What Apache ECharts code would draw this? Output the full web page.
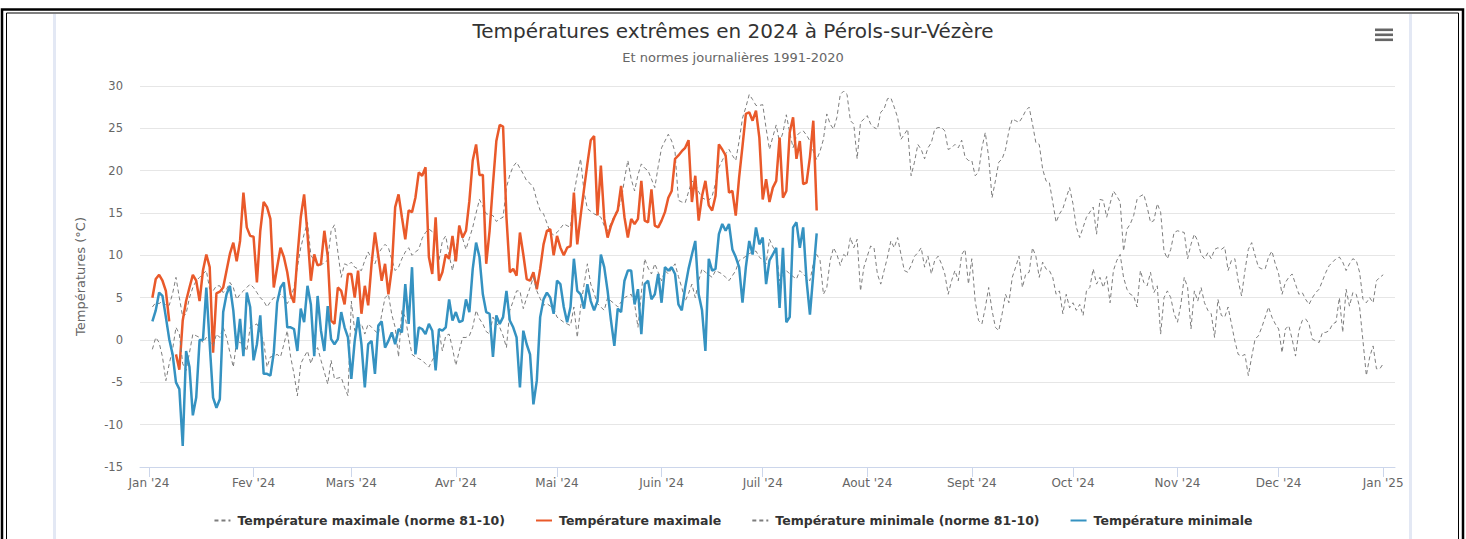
<!DOCTYPE html>
<html>
<head>
<meta charset="utf-8">
<script src="https://cdn.jsdelivr.net/npm/echarts@6/dist/echarts.min.js"></script>
<style>
html,body{margin:0;padding:0;background:#fff;}
#c{width:1466px;height:539px;}
</style>
</head>
<body>
<div id="c"></div>
<script>
// ---- axis definitions (day index counted from 1 Jan 2024) ----
const monthStarts = [0,31,60,91,121,152,182,213,244,274,305,335,366];
const monthLabels = ["Jan '24","Fev '24","Mars '24","Avr '24","Mai '24","Juin '24","Juil '24","Aout '24","Sept '24","Oct '24","Nov '24","Dec '24","Jan '25"];
const yTickMin = -15, yTickMax = 30, yTickStep = 5;

const seriesNames = [
  "Température maximale (norme 81-10)",
  "Température maximale",
  "Température minimale (norme 81-10)",
  "Température minimale"
];

// ---- observed daily maximum (from day 1) ----
const tmax = [
5.0,7.2,7.7,7.0,5.8,2.2,null,-1.7,-3.5,2.3,
4.6,6.2,7.7,7.0,4.6,8.2,10.1,8.6,-1.5,5.5,
5.7,6.2,8.2,10.2,11.5,9.3,11.7,17.4,13.3,12.3,
12.2,6.8,12.9,16.3,15.7,14.3,6.2,8.6,10.9,9.8,
8.0,5.4,4.4,9.8,14.5,17.2,12.5,7.0,10.1,8.8,
9.0,12.9,9.9,2.3,1.9,6.2,5.8,4.2,7.8,7.8,
5.0,8.2,3.1,6.4,4.1,9.0,12.7,9.9,7.0,9.0,
5.4,8.4,15.7,17.2,14.5,11.9,15.3,15.1,16.8,19.8,
19.4,20.4,9.8,7.8,14.5,7.0,8.0,10.1,9.6,12.3,
9.3,13.5,12.1,12.9,16.4,21.2,23.1,19.5,19.5,9.0,
12.9,18.4,23.5,25.4,25.2,14.5,8.0,8.4,7.6,12.7,
10.1,7.2,7.0,8.0,6.0,8.4,11.3,12.9,13.1,10.0,
12.3,10.9,10.0,10.9,11.1,17.4,11.3,14.7,17.8,20.8,
23.6,24.1,14.7,20.6,14.3,12.1,13.5,14.5,15.3,18.2,
14.5,12.1,14.3,13.7,14.3,18.8,14.1,13.9,17.8,13.5,
13.3,14.1,15.1,16.8,17.6,21.4,21.8,22.3,22.7,23.6,
16.3,19.4,14.1,17.0,18.8,15.9,15.3,17.0,23.1,22.5,
21.8,17.4,17.6,14.7,19.2,22.9,26.7,26.9,25.9,27.1,
23.9,16.6,19.0,16.3,18.0,18.8,23.9,16.8,17.6,24.5,
26.3,21.4,23.5,18.4,18.6,21.6,25.9,15.3
];

// ---- observed daily minimum ----
const tmin = [
2.2,3.5,5.6,5.2,2.7,0.1,-1.7,-5.0,-5.8,-12.5,
-1.3,-3.2,-8.9,-6.8,0.0,0.0,6.2,-0.5,-6.8,-8.0,
-7.0,3.3,5.4,6.4,3.5,-1.1,2.5,-1.9,5.6,3.9,
-2.4,-0.5,2.9,-4.0,-4.0,-4.2,-1.5,4.4,6.2,6.8,
1.5,1.5,1.3,-1.3,3.7,2.1,6.4,4.2,-1.9,5.2,
1.1,-1.3,4.0,0.1,-0.5,0.1,3.3,1.5,0.3,-4.6,
-0.1,2.7,-0.5,-5.6,-0.5,-0.1,-4.0,1.7,2.2,-0.9,
-0.1,0.9,-0.5,1.3,0.9,6.6,1.9,8.6,-1.7,1.5,
1.3,0.7,1.9,1.1,-3.6,1.3,1.1,1.5,4.8,2.3,
3.3,2.1,2.3,4.8,3.3,8.4,11.5,9.8,5.4,3.3,
3.1,-2.0,2.9,1.9,2.7,5.8,2.3,1.5,0.3,-5.6,
1.1,-0.5,-1.7,-7.6,-4.8,2.7,4.8,5.6,5.0,3.1,
7.0,6.6,3.9,2.1,3.9,9.6,5.8,5.4,3.7,6.6,
4.6,3.5,4.6,10.1,8.6,5.8,2.3,-0.7,3.7,3.3,
7.0,8.2,8.2,4.2,6.0,0.7,6.6,7.0,4.8,5.4,
7.8,4.4,8.6,8.2,8.6,7.8,4.2,3.5,6.2,8.4,
10.1,11.7,5.4,3.5,-1.3,9.6,8.2,8.4,12.5,13.7,
12.9,13.7,10.7,9.8,8.6,4.4,8.6,11.7,10.1,13.3,
11.3,12.1,6.6,9.4,10.1,10.9,3.8,10.9,2.1,2.7,
13.3,13.9,10.9,13.3,7.0,3.0,7.8,12.6
];

// ---- daily normal of maximum ----
const txNorm = [
3.9,4.4,4.3,4.6,4.1,4.1,5.5,7.4,5.0,2.7,
3.1,5.0,6.2,7.0,7.4,7.8,8.2,6.0,5.8,6.4,
6.4,5.6,6.0,6.8,6.2,4.8,5.4,5.8,6.2,6.6,
6.2,5.6,5.0,4.6,3.9,4.5,5.0,5.0,5.4,5.0,
4.3,5.0,6.2,8.6,10.9,12.5,13.9,10.0,9.4,9.0,
8.8,9.2,9.4,12.9,13.6,10.4,7.4,9.0,8.8,9.2,
8.6,8.4,8.2,9.4,10.4,9.6,9.0,10.2,10.8,11.3,
10.9,9.5,8.2,8.6,9.6,10.4,10.9,10.0,10.4,10.7,
12.0,12.7,13.1,12.8,12.5,9.4,11.7,12.3,10.0,8.2,
10.5,13.5,12.0,10.7,12.0,13.3,15.0,16.6,15.8,14.9,
14.8,14.7,14.0,14.3,14.5,18.0,19.5,20.5,21.0,20.3,
19.6,18.8,18.5,18.0,16.5,15.3,14.9,13.8,12.7,12.4,
12.7,13.2,13.7,13.5,13.3,17.2,19.5,21.4,17.5,15.5,
15.2,14.9,14.7,14.5,13.5,12.9,13.8,14.7,15.5,16.3,
19.0,21.2,19.0,17.6,19.5,20.8,20.3,20.0,19.0,18.0,
20.5,22.7,23.5,24.3,23.5,22.2,16.5,16.3,16.2,17.5,
18.8,18.4,17.5,16.8,16.6,16.5,17.0,18.5,20.4,21.2,
22.0,22.5,21.8,21.2,23.5,26.2,27.5,29.0,28.4,27.7,
27.7,27.8,25.0,22.5,24.0,25.4,23.3,24.5,26.6,24.5,
22.7,24.1,24.5,24.7,24.2,23.5,22.3,21.3,22.3,23.7,
26.7,25.5,24.9,26.3,29.0,29.4,29.0,25.9,25.5,21.4,
25.7,26.1,26.5,25.5,25.1,24.9,26.9,27.3,28.5,28.6,
27.5,26.3,23.7,24.3,24.9,19.4,21.0,23.1,22.5,21.4,
22.7,23.3,24.9,25.1,25.1,24.7,22.5,22.7,23.1,22.7,
23.6,21.6,21.2,21.2,19.4,19.8,22.7,24.5,21.6,16.8,
18.8,21.0,21.4,22.5,24.7,26.1,25.9,25.7,26.3,27.1,
27.5,25.5,23.3,23.1,20.2,18.8,18.6,16.3,13.9,14.9,
15.5,16.8,18.0,16.1,13.3,12.1,13.3,14.5,15.1,15.7,
12.5,16.6,16.5,14.5,16.1,17.6,17.0,16.3,10.5,13.1,
13.7,14.7,16.6,17.0,17.2,15.7,13.9,14.1,16.1,15.1,
10.5,9.6,10.7,12.7,12.9,12.8,12.7,9.6,11.3,12.5,
11.7,10.1,9.6,10.3,9.6,10.7,10.9,10.7,11.0,8.2,
9.4,9.6,7.0,5.2,8.2,10.7,11.5,10.0,8.6,8.4,
8.4,9.8,10.5,9.0,7.8,5.4,6.8,7.4,7.8,6.6,
5.4,5.6,4.8,4.2,5.0,5.6,6.0,7.0,8.0,8.8,
9.2,9.6,9.8,9.2,8.2,9.0,9.6,9.4,8.0,4.8,
4.4,5.0,4.4,7.0,7.4,7.7
];

// ---- daily normal of minimum ----
const tnNorm = [
-1.1,0.3,-0.3,-2.0,-4.8,-2.8,-1.1,1.5,0.7,-2.8,
-3.6,-1.5,0.7,0.5,0.3,-0.3,0.3,-0.2,-0.7,0.7,
0.3,1.5,0.3,-1.5,-3.2,-0.1,-0.3,-0.5,-1.3,1.5,
1.7,1.9,0.8,-0.1,-3.2,-2.0,-1.9,-1.7,-2.0,-0.5,
1.1,-2.0,-4.0,-6.6,-2.8,-2.0,-1.3,-2.8,-1.5,-0.9,
-2.4,-3.8,-5.2,-2.4,-4.6,-4.5,-4.4,-5.6,-6.6,4.6,
1.1,1.5,1.9,0.7,1.9,1.5,1.1,0.7,3.0,5.0,
5.4,3.0,1.5,-2.0,3.5,2.7,0.3,-1.7,-2.0,-2.2,
-2.4,-2.8,-3.2,-2.4,-1.7,1.1,-1.3,0.5,0.7,-1.0,
-3.0,-1.3,0.3,0.3,0.5,1.5,3.5,2.5,1.9,1.0,
0.7,2.7,2.0,1.5,0.5,-0.9,3.5,4.6,5.8,5.8,
3.7,5.0,6.2,7.4,5.8,4.9,4.1,4.3,4.0,3.7,
2.7,2.4,2.1,1.9,1.7,3.9,0.3,3.9,6.5,9.0,
6.6,5.5,4.3,3.9,3.5,5.0,4.6,4.3,3.9,4.5,
5.0,5.2,5.4,4.3,1.5,5.5,9.6,8.5,7.8,9.0,
8.0,7.0,8.2,7.8,8.4,9.0,7.5,6.2,4.6,5.5,
6.6,5.0,7.0,8.4,8.0,7.7,7.4,8.2,8.0,7.8,
7.4,7.0,7.6,8.2,9.4,9.6,9.9,10.2,10.4,10.5,
9.8,9.4,9.0,11.9,11.0,10.4,7.0,7.6,8.2,7.8,
7.5,7.2,8.2,7.8,7.4,7.0,9.0,10.1,9.4,5.4,
6.2,9.4,10.9,10.1,8.8,10.1,9.8,12.1,10.9,11.9,
5.8,8.6,9.9,11.1,10.9,7.8,6.6,8.2,9.8,11.7,
10.9,12.1,10.1,8.2,8.0,8.8,9.9,10.3,10.9,8.6,
9.9,7.8,9.4,9.9,9.0,7.8,5.4,7.0,8.2,7.0,
10.1,10.7,6.6,9.6,4.6,2.3,1.9,3.8,6.2,3.5,
1.5,1.1,3.1,5.4,4.4,7.4,8.6,9.9,6.2,7.8,
8.0,10.9,9.9,7.4,9.2,8.4,8.2,7.4,5.4,5.8,
3.1,5.4,3.8,4.4,3.5,4.2,2.9,5.8,6.2,8.4,
6.6,7.4,6.2,7.5,4.4,8.2,9.4,10.1,7.4,6.0,
5.4,5.2,3.9,8.2,6.8,6.4,8.0,5.6,6.4,0.7,
5.0,5.8,5.0,3.1,2.1,4.2,7.4,6.2,1.3,5.8,
4.6,6.2,4.4,3.5,3.1,0.3,4.8,2.9,2.7,3.9,
1.9,-0.1,-1.7,-1.9,-1.7,-4.2,-2.0,0.1,0.5,1.5,
2.7,3.9,2.7,1.9,1.3,-1.5,1.3,1.7,0.1,-1.9,
1.1,2.3,2.5,1.9,0.1,-0.1,-0.3,0.9,0.9,1.1,
1.9,2.1,5.0,0.9,6.0,4.0,5.6,5.4,3.9,-0.1,
-4.2,-2.0,-0.7,-3.4,-3.4,-2.8
];

const toPairs = arr => arr.map((v, i) => [i + 1, v]);
const FONT = "'DejaVu Sans', 'Lucida Grande', sans-serif";

const chart = echarts.init(document.getElementById('c'), null, {renderer: 'svg'});

const normStyle = {color: '#7d7d7d', width: 1, type: [4, 3]};

chart.setOption({
  animation: false,
  backgroundColor: '#ffffff',
  title: [
    {text: 'Températures extrêmes en 2024 à Pérols-sur-Vézère', left: 'center', top: 16,
     textStyle: {fontFamily: FONT, fontSize: 20, fontWeight: 'normal', color: '#333333'}},
    {text: 'Et normes journalières 1991-2020', left: 'center', top: 46,
     textStyle: {fontFamily: FONT, fontSize: 13, fontWeight: 'normal', color: '#666666'}}
  ],
  grid: {left: 140, right: 71, top: 86, bottom: 72},
  xAxis: {
    type: 'value', min: -2.67, max: 369.5,
    axisLine: {show: true, onZero: false, lineStyle: {color: '#ccd6eb', width: 1}},
    axisTick: {show: true, customValues: monthStarts, length: 10, lineStyle: {color: '#ccd6eb'}},
    axisLabel: {customValues: monthStarts, margin: 10, color: '#666666', fontSize: 12, fontFamily: FONT,
      formatter: v => { const k = monthStarts.indexOf(Math.round(v)); return k >= 0 ? monthLabels[k] : ''; }},
    splitLine: {show: false}
  },
  yAxis: {
    type: 'value', min: yTickMin, max: yTickMax, interval: yTickStep,
    name: 'Températures (°C)', nameLocation: 'middle', nameGap: 53,
    nameTextStyle: {fontFamily: FONT, fontSize: 13, color: '#666666'},
    axisLine: {show: false}, axisTick: {show: false},
    axisLabel: {margin: 17, color: '#666666', fontSize: 11.5, fontFamily: FONT},
    splitLine: {lineStyle: {color: '#e6e6e6', width: 1}}
  },
  legend: {
    top: 509, left: 'center', itemWidth: 16, itemHeight: 12, itemGap: 30,
    data: seriesNames,
    itemStyle: {opacity: 0},
    textStyle: {fontFamily: FONT, fontSize: 12.5, fontWeight: 'bold', color: '#333333', padding: [0, 0, 0, 2]}
  },
  series: [
    {name: seriesNames[0], type: 'line', data: toPairs(txNorm), symbol: 'none', lineStyle: normStyle, itemStyle: {color: '#7d7d7d'}, z: 2},
    {name: seriesNames[1], type: 'line', data: toPairs(tmax), symbol: 'none', connectNulls: false,
     lineStyle: {color: '#e9592a', width: 2.5}, itemStyle: {color: '#e9592a'}, z: 3},
    {name: seriesNames[2], type: 'line', data: toPairs(tnNorm), symbol: 'none', lineStyle: normStyle, itemStyle: {color: '#7d7d7d'}, z: 4},
    {name: seriesNames[3], type: 'line', data: toPairs(tmin), symbol: 'none',
     lineStyle: {color: '#3592c1', width: 2.5}, itemStyle: {color: '#3592c1'}, z: 5}
  ],
  graphic: [
    {type: 'rect', silent: true, shape: {x: 2, y: 9.5, width: 1461, height: 545}, style: {fill: 'none', stroke: '#000', lineWidth: 2.5}},
    {type: 'rect', silent: true, shape: {x: 6.5, y: 13, width: 1452, height: 540}, style: {fill: 'none', stroke: '#000', lineWidth: 1}},
    {type: 'line', silent: true, shape: {x1: 54.5, y1: 14, x2: 54.5, y2: 539}, style: {stroke: '#e3e8f4', lineWidth: 3}},
    {type: 'line', silent: true, shape: {x1: 1410.5, y1: 14, x2: 1410.5, y2: 539}, style: {stroke: '#e3e8f4', lineWidth: 3}},
    {type: 'rect', silent: true, shape: {x: 1375, y: 28.5, width: 18, height: 2.6}, style: {fill: '#666'}},
    {type: 'rect', silent: true, shape: {x: 1375, y: 33.5, width: 18, height: 2.6}, style: {fill: '#666'}},
    {type: 'rect', silent: true, shape: {x: 1375, y: 38.5, width: 18, height: 2.6}, style: {fill: '#666'}}
  ]
});
</script>
</body>
</html>
